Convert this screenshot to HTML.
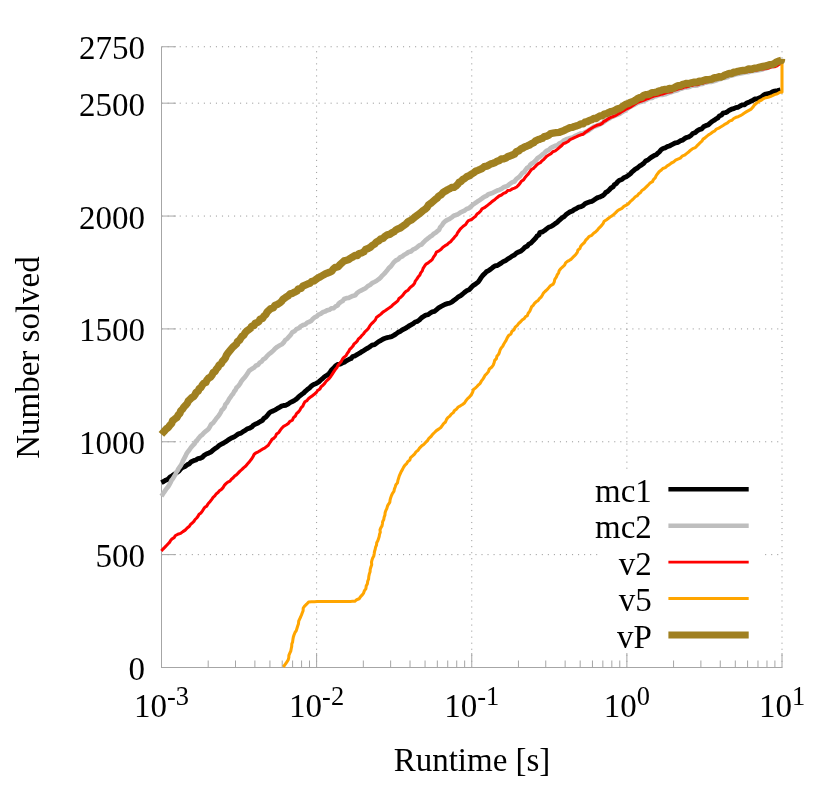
<!DOCTYPE html>
<html><head><meta charset="utf-8"><title>chart</title>
<style>
html,body{margin:0;padding:0;background:#fff;}
body{width:830px;height:792px;position:relative;overflow:hidden;font-family:"Liberation Serif",serif;color:#000;}
.txt{position:absolute;left:0;top:0;width:830px;height:792px;will-change:transform;}
.yl{position:absolute;left:0;width:145px;text-align:right;font-size:33px;line-height:37px;height:37px;white-space:nowrap;}
.xl{position:absolute;top:687.5px;width:100px;text-align:center;font-size:33px;line-height:37px;white-space:nowrap;}
.sup{font-size:26.4px;position:relative;top:-11.8px;line-height:0;}
.xt{position:absolute;left:372px;width:200px;top:742px;text-align:center;font-size:33px;line-height:37px;white-space:nowrap;}
.yt{position:absolute;left:28px;top:357px;width:0;height:0;font-size:33px;line-height:37px;white-space:nowrap;}
.yt span{position:absolute;left:-150px;width:300px;top:-18.5px;text-align:center;transform:rotate(-90deg);display:block;}
.lg{position:absolute;width:200px;left:451.8px;text-align:right;font-size:33px;line-height:37px;white-space:nowrap;}
</style></head><body>
<svg width="830" height="792" viewBox="0 0 830 792" style="position:absolute;left:0;top:0">
<rect width="830" height="792" fill="#fff"/>
<g stroke="#9a9a9a" stroke-width="1" stroke-dasharray="1.1 4.935" fill="none"><line x1="161.60" y1="667.50" x2="782.00" y2="667.50"/><line x1="161.60" y1="554.64" x2="782.00" y2="554.64"/><line x1="161.60" y1="441.77" x2="782.00" y2="441.77"/><line x1="161.60" y1="328.91" x2="782.00" y2="328.91"/><line x1="161.60" y1="216.05" x2="782.00" y2="216.05"/><line x1="161.60" y1="103.18" x2="782.00" y2="103.18"/><line x1="161.60" y1="46.75" x2="782.00" y2="46.75"/><line x1="161.50" y1="667.90" x2="161.50" y2="46.75"/><line x1="316.62" y1="667.90" x2="316.62" y2="46.75"/><line x1="471.75" y1="667.90" x2="471.75" y2="46.75"/><line x1="626.88" y1="667.90" x2="626.88" y2="46.75"/><line x1="782.00" y1="667.90" x2="782.00" y2="46.75"/></g>
<g stroke="#a6a6a6" stroke-width="1" fill="none"><path d="M161.5,46.75 V667.5 H782.0"/><path d="M161.5,667.50 h14.5"/><path d="M161.5,554.64 h14.5"/><path d="M161.5,441.77 h14.5"/><path d="M161.5,328.91 h14.5"/><path d="M161.5,216.05 h14.5"/><path d="M161.5,103.18 h14.5"/><path d="M161.5,46.75 h14.5"/><path d="M161.50,667.5 v-14.5"/><path d="M208.20,667.5 v-7"/><path d="M235.51,667.5 v-7"/><path d="M254.89,667.5 v-7"/><path d="M269.93,667.5 v-7"/><path d="M282.21,667.5 v-7"/><path d="M292.60,667.5 v-7"/><path d="M301.59,667.5 v-7"/><path d="M309.53,667.5 v-7"/><path d="M316.62,667.5 v-14.5"/><path d="M363.32,667.5 v-7"/><path d="M390.64,667.5 v-7"/><path d="M410.02,667.5 v-7"/><path d="M425.05,667.5 v-7"/><path d="M437.34,667.5 v-7"/><path d="M447.72,667.5 v-7"/><path d="M456.72,667.5 v-7"/><path d="M464.65,667.5 v-7"/><path d="M471.75,667.5 v-14.5"/><path d="M518.45,667.5 v-7"/><path d="M545.76,667.5 v-7"/><path d="M565.14,667.5 v-7"/><path d="M580.18,667.5 v-7"/><path d="M592.46,667.5 v-7"/><path d="M602.85,667.5 v-7"/><path d="M611.84,667.5 v-7"/><path d="M619.78,667.5 v-7"/><path d="M626.88,667.5 v-14.5"/><path d="M673.57,667.5 v-7"/><path d="M700.89,667.5 v-7"/><path d="M720.27,667.5 v-7"/><path d="M735.30,667.5 v-7"/><path d="M747.59,667.5 v-7"/><path d="M757.97,667.5 v-7"/><path d="M766.97,667.5 v-7"/><path d="M774.90,667.5 v-7"/><path d="M782.00,667.5 v-14.5"/></g>
<clipPath id="cp"><rect x="150" y="40" width="640" height="632"/></clipPath><g clip-path="url(#cp)" fill="none" stroke-linejoin="round"><path d="M161.4,482.7 L163.6,481.5 L165.7,480.2 L168.0,479.2 L169.9,477.2 L172.2,475.8 L174.3,474.2 L176.5,472.7 L178.8,471.2 L180.5,469.1 L182.6,467.4 L185.2,466.4 L187.2,464.8 L189.5,463.7 L191.3,461.7 L193.6,460.7 L195.9,460.0 L197.8,458.6 L200.2,458.3 L202.4,457.2 L204.2,455.3 L206.3,454.0 L208.7,453.1 L211.0,452.1 L212.9,450.2 L215.0,448.6 L217.2,447.2 L219.2,445.4 L221.4,444.2 L223.7,443.0 L225.8,441.7 L227.9,440.2 L230.0,438.9 L232.1,437.7 L234.4,436.7 L236.5,435.3 L238.5,433.8 L241.0,433.1 L243.0,431.6 L245.2,430.4 L247.2,428.8 L249.7,428.2 L251.8,426.9 L253.6,425.1 L255.8,423.9 L258.1,422.9 L260.3,421.5 L262.5,420.3 L264.0,418.3 L266.0,416.9 L267.6,415.1 L269.1,413.2 L271.0,411.7 L273.2,410.9 L275.3,409.8 L277.4,408.5 L279.5,407.4 L281.5,406.2 L283.7,405.5 L286.0,405.2 L288.1,404.1 L290.1,402.6 L292.4,401.5 L294.6,400.3 L296.7,398.9 L298.3,397.2 L300.1,395.7 L301.8,394.3 L303.7,393.0 L305.3,391.3 L307.3,389.6 L309.5,388.0 L311.4,386.1 L313.6,384.5 L316.3,383.4 L318.8,381.9 L320.8,380.0 L322.8,378.3 L324.8,376.5 L327.2,375.1 L329.1,373.5 L330.6,371.5 L332.0,369.5 L333.9,367.8 L335.6,365.8 L337.9,364.4 L340.2,364.1 L342.2,363.0 L344.3,362.2 L346.4,360.7 L348.7,359.6 L351.0,358.6 L352.7,356.5 L355.2,355.8 L357.4,354.4 L359.6,353.2 L361.6,351.7 L363.8,350.6 L365.8,349.2 L368.0,348.0 L370.1,346.7 L372.0,345.2 L374.6,344.6 L376.6,343.1 L378.6,341.6 L380.8,340.5 L383.0,339.1 L385.1,338.3 L387.2,337.6 L389.4,337.2 L391.6,336.6 L393.8,335.4 L395.8,334.1 L397.8,332.6 L400.0,331.6 L402.1,330.0 L404.5,328.8 L406.8,327.5 L408.9,326.0 L411.0,324.8 L413.2,323.6 L415.1,322.0 L417.5,321.3 L419.6,319.8 L421.4,317.9 L423.5,316.5 L425.7,315.1 L428.2,314.6 L430.1,313.1 L432.2,311.9 L434.5,311.3 L436.6,309.6 L438.6,307.9 L440.8,306.6 L443.1,305.4 L445.1,304.3 L447.3,303.6 L449.6,303.1 L451.7,302.1 L453.7,300.5 L455.9,299.0 L457.9,297.2 L460.2,295.9 L462.4,294.3 L464.4,292.5 L466.5,290.8 L469.1,289.8 L471.2,287.5 L473.4,285.3 L475.8,283.8 L478.1,282.1 L479.7,279.8 L481.1,277.7 L482.6,275.6 L484.5,273.8 L486.3,271.8 L488.7,270.6 L490.9,269.0 L492.9,267.3 L494.9,265.9 L497.4,265.5 L499.5,264.2 L501.5,262.9 L503.5,261.4 L505.9,260.4 L507.9,258.8 L510.1,257.6 L512.1,256.1 L514.4,255.0 L516.3,253.2 L518.6,252.0 L521.1,250.9 L523.2,249.2 L525.0,247.2 L527.4,246.0 L528.9,244.1 L530.9,243.1 L532.5,241.4 L534.1,239.7 L535.7,238.1 L536.9,236.2 L539.0,234.9 L539.8,232.6 L542.4,231.8 L544.6,230.5 L546.6,228.9 L548.6,227.3 L551.0,226.5 L553.2,225.2 L555.2,223.6 L557.3,222.2 L558.9,220.6 L560.6,219.1 L562.3,217.6 L564.3,216.5 L565.8,214.8 L567.9,213.3 L570.0,211.9 L572.4,211.0 L574.4,209.4 L576.6,208.4 L578.7,207.2 L581.1,206.6 L583.2,205.5 L585.0,203.8 L587.2,202.8 L589.4,201.9 L591.8,201.3 L593.9,200.1 L595.9,198.7 L598.0,197.5 L600.3,196.8 L602.5,195.8 L604.3,194.4 L605.7,192.5 L607.8,191.3 L609.4,189.7 L611.0,188.0 L613.0,186.9 L614.2,184.9 L616.2,183.7 L617.6,181.8 L619.3,180.3 L621.9,179.5 L623.8,177.7 L626.3,176.7 L628.4,175.3 L630.3,173.9 L631.8,172.1 L633.6,170.6 L635.3,169.1 L637.4,168.0 L639.4,166.2 L641.7,164.8 L643.8,163.2 L645.6,161.0 L647.9,160.0 L649.9,158.3 L652.0,156.9 L654.1,155.6 L656.3,154.7 L657.9,153.1 L659.7,151.6 L661.1,149.8 L663.0,148.5 L665.2,147.8 L667.2,146.7 L669.4,146.0 L671.4,144.9 L673.5,143.8 L675.7,142.8 L678.1,142.3 L680.1,140.9 L682.4,140.2 L684.4,138.7 L686.5,137.5 L688.8,136.8 L691.0,135.5 L692.7,133.5 L695.2,132.7 L697.1,130.9 L699.2,129.6 L701.7,128.8 L703.5,126.8 L705.7,125.7 L708.2,124.9 L710.1,123.1 L712.1,121.5 L714.3,120.2 L716.0,118.9 L718.0,117.8 L719.4,115.9 L721.6,115.0 L723.0,113.2 L725.4,112.7 L727.5,111.7 L729.4,110.2 L731.5,109.2 L733.8,108.6 L735.8,107.6 L738.1,107.3 L740.1,106.0 L742.2,104.9 L744.7,104.7 L746.6,103.1 L748.8,102.3 L750.9,101.2 L753.0,100.2 L755.1,99.0 L757.5,98.8 L759.7,97.8 L761.8,96.7 L763.7,95.0 L765.8,94.1 L768.1,93.6 L770.4,93.1 L772.4,91.9 L774.6,91.2 L777.6,90.6 L780.6,89.8" stroke="#000000" stroke-width="4.9"/><path d="M161.4,496.2 L162.7,494.3 L164.0,492.3 L165.3,490.4 L166.6,488.5 L168.1,486.7 L169.3,484.7 L170.5,482.6 L171.4,480.5 L172.9,478.6 L174.1,476.6 L175.3,474.6 L176.2,472.4 L177.5,470.6 L178.5,468.6 L179.9,466.8 L181.1,464.9 L182.2,462.9 L182.9,460.8 L184.1,458.6 L185.3,456.4 L186.4,454.1 L187.7,452.0 L189.3,450.0 L190.8,447.8 L192.5,445.7 L194.5,443.8 L195.8,441.5 L197.4,439.9 L198.8,438.0 L200.3,436.2 L202.1,434.8 L204.1,432.6 L206.5,430.7 L208.5,428.9 L209.9,426.7 L211.1,424.4 L213.2,422.8 L214.8,420.7 L216.3,418.5 L218.1,416.5 L219.6,414.4 L220.8,412.4 L221.7,410.3 L223.4,408.7 L224.7,406.8 L225.3,404.5 L226.9,402.8 L228.1,400.9 L229.2,398.9 L230.5,397.1 L231.7,395.3 L233.2,393.6 L234.1,391.6 L235.6,389.9 L236.5,387.8 L238.5,385.9 L240.1,383.7 L241.4,381.2 L243.1,379.1 L244.9,377.2 L246.4,375.1 L247.8,372.9 L249.2,370.7 L251.5,369.1 L253.8,367.8 L255.7,365.8 L258.2,364.8 L259.6,362.7 L261.7,361.5 L263.1,359.5 L265.2,358.2 L266.7,356.4 L268.3,354.8 L270.1,353.3 L271.9,351.9 L273.5,350.3 L275.1,348.6 L277.2,346.9 L279.5,345.5 L281.9,344.2 L283.9,342.3 L285.2,340.1 L287.4,338.6 L289.1,336.6 L290.9,334.7 L292.2,332.4 L294.6,331.2 L296.4,329.2 L298.9,328.1 L300.8,326.3 L303.0,325.1 L305.4,324.4 L307.2,322.6 L309.6,321.7 L311.5,320.6 L312.9,318.8 L314.7,317.4 L316.8,316.4 L318.3,314.7 L320.6,313.9 L322.6,312.3 L324.9,311.6 L327.0,310.4 L329.4,309.8 L331.3,308.4 L333.8,308.1 L335.6,306.4 L337.6,305.4 L338.9,303.4 L340.8,302.0 L342.8,300.9 L344.1,299.0 L346.4,298.2 L348.7,297.9 L350.7,296.9 L352.8,295.9 L355.3,295.2 L357.0,293.1 L359.1,291.5 L361.4,290.3 L363.7,289.2 L365.9,287.9 L367.8,286.1 L370.0,285.0 L372.0,283.2 L374.4,282.0 L376.7,280.7 L378.8,279.2 L380.7,277.5 L382.3,275.6 L384.1,273.9 L385.7,272.1 L387.3,270.2 L388.8,268.1 L390.8,266.4 L392.3,264.3 L393.9,262.2 L395.8,260.5 L398.2,259.4 L400.0,257.4 L402.3,256.3 L404.4,254.7 L406.6,253.5 L408.6,252.0 L411.1,251.4 L412.9,249.6 L415.2,248.6 L417.3,247.1 L419.2,245.4 L421.6,244.5 L423.1,242.7 L424.8,241.1 L426.5,239.6 L428.3,238.2 L430.0,236.7 L432.0,235.5 L433.6,233.9 L435.6,232.8 L437.3,231.2 L439.1,229.8 L440.2,227.2 L442.0,225.2 L443.4,223.0 L445.3,221.1 L447.4,219.9 L449.7,218.8 L451.8,217.4 L453.7,215.8 L455.9,215.0 L458.1,214.1 L460.1,212.7 L462.2,211.7 L464.5,210.6 L466.5,209.0 L468.9,208.2 L470.9,206.4 L472.6,204.9 L474.5,203.6 L476.4,202.3 L478.3,200.9 L480.3,199.7 L482.2,198.3 L484.2,196.9 L486.5,195.8 L488.5,194.2 L490.9,193.4 L493.1,192.7 L495.1,191.7 L497.2,190.6 L499.3,189.9 L501.5,188.8 L503.5,187.3 L505.7,186.6 L507.9,185.6 L509.9,183.9 L512.0,182.4 L514.5,181.5 L515.9,179.6 L517.6,178.1 L519.5,176.7 L520.9,174.9 L522.3,173.1 L524.3,171.9 L525.6,169.9 L526.9,168.1 L529.0,166.9 L530.2,164.9 L532.0,163.4 L533.9,162.2 L535.9,160.3 L537.7,158.0 L540.1,156.6 L542.2,154.7 L544.4,153.0 L546.4,151.0 L548.8,149.9 L550.6,148.0 L552.9,146.8 L555.1,145.8 L557.5,145.2 L559.3,143.4 L561.7,142.5 L563.6,140.7 L565.9,139.5 L568.0,138.7 L570.2,138.1 L572.4,137.6 L574.4,136.4 L576.5,135.3 L578.6,134.4 L580.8,133.5 L583.2,133.3 L585.3,132.2 L587.8,131.0 L590.1,129.3 L593.6,126.8 L597.1,125.7 L599.8,124.4 L602.5,123.0 L604.0,121.8 L605.9,120.4 L608.0,119.2 L610.1,118.2 L610.9,117.3 L613.5,116.4 L616.0,115.2 L619.7,113.8 L622.1,112.1 L624.3,110.9 L626.4,109.6 L628.3,107.9 L631.1,106.3 L634.0,104.9 L637.1,103.1 L639.3,102.3 L641.5,101.7 L643.8,101.0 L645.8,99.9 L646.1,100.0 L648.0,98.7 L650.1,98.1 L652.4,97.9 L654.2,96.5 L656.5,96.1 L658.5,95.2 L660.7,94.7 L663.0,94.8 L665.4,94.3 L667.7,93.4 L669.9,92.4 L671.5,92.1 L673.6,91.3 L675.9,90.8 L678.0,90.0 L680.1,88.9 L682.3,88.4 L684.3,87.5 L686.5,87.3 L688.8,87.1 L690.0,86.7 L692.4,85.7 L694.9,85.7 L697.3,85.4 L699.8,84.2 L702.5,83.9 L705.0,82.7 L705.9,82.7 L708.7,81.8 L711.7,81.8 L714.5,81.0 L716.6,80.3 L718.7,79.3 L720.9,79.0 L722.9,78.0 L725.2,77.8 L727.4,77.3 L729.4,76.0 L731.6,75.5 L733.8,74.9 L735.9,74.2 L738.1,73.9 L740.3,73.5 L743.1,72.9 L745.9,72.2 L748.9,72.1 L751.6,71.1 L754.5,70.9 L757.4,70.4 L760.0,69.9 L762.5,69.4 L764.9,68.3 L766.0,68.3 L768.1,67.3 L770.3,66.7 L772.6,66.2 L774.6,65.1 L774.8,64.3 L777.1,63.8 L779.4,63.0 L781.6,62.2 L781.5,61.9" stroke="#bebebe" stroke-width="4.7"/><path d="M161.4,550.9 L163.0,549.1 L164.7,547.4 L166.3,545.7 L167.9,544.0 L169.5,542.4 L170.6,540.5 L172.1,538.8 L174.1,537.7 L175.2,535.8 L177.8,534.3 L180.6,533.4 L182.9,531.6 L185.2,530.1 L187.2,528.0 L189.4,526.3 L190.5,524.4 L192.3,523.0 L193.9,521.4 L195.1,519.5 L196.7,518.0 L198.0,516.3 L199.1,514.2 L201.0,512.9 L202.3,511.1 L203.5,509.2 L204.8,507.3 L206.8,506.1 L208.1,503.7 L209.9,501.7 L211.6,499.6 L213.1,497.4 L214.8,495.9 L216.1,494.0 L218.0,492.6 L219.4,490.8 L221.4,489.4 L223.1,487.6 L224.3,485.4 L226.0,483.7 L227.8,482.1 L230.0,481.1 L231.4,479.2 L233.2,477.8 L234.7,476.1 L236.6,474.7 L238.3,472.9 L240.0,471.1 L242.0,469.4 L243.8,467.6 L245.8,466.0 L247.4,464.1 L249.0,462.3 L250.4,460.4 L251.9,458.6 L253.1,456.5 L254.2,454.3 L256.1,452.8 L258.2,451.8 L260.3,450.6 L262.4,449.2 L264.6,448.2 L266.5,446.6 L268.3,445.2 L269.5,443.3 L270.8,441.3 L272.0,439.4 L274.0,438.1 L275.5,436.4 L276.6,433.9 L278.8,432.4 L280.3,430.2 L281.8,428.2 L283.6,426.3 L286.1,425.0 L288.3,423.5 L290.0,421.3 L292.4,420.1 L293.5,417.7 L295.4,416.0 L296.5,413.7 L298.4,412.0 L299.9,410.1 L301.0,407.9 L302.8,406.2 L303.7,403.9 L304.9,401.8 L307.0,400.6 L308.4,398.7 L310.2,397.3 L312.1,395.9 L313.9,394.6 L316.3,392.5 L317.7,390.5 L319.9,389.0 L321.1,386.7 L323.2,385.0 L324.7,383.4 L326.0,381.5 L327.7,379.9 L329.3,378.4 L330.9,376.3 L332.3,374.1 L333.7,371.9 L335.1,369.8 L336.8,367.8 L337.9,365.5 L339.5,363.4 L341.3,361.4 L342.5,359.1 L344.2,357.1 L346.1,355.6 L347.2,353.4 L348.7,351.6 L349.7,349.4 L351.4,347.8 L353.0,346.0 L354.0,344.0 L355.9,342.6 L357.3,341.0 L358.4,338.9 L360.2,337.6 L361.5,335.8 L363.4,334.0 L364.9,331.9 L366.8,330.2 L368.5,328.3 L369.8,325.9 L371.4,323.8 L373.4,322.0 L375.3,320.0 L376.4,317.5 L378.7,315.8 L380.9,314.1 L382.9,312.1 L385.1,310.7 L387.2,309.2 L389.4,307.8 L391.6,306.2 L393.6,304.2 L395.8,302.5 L397.8,300.9 L399.0,298.5 L401.1,297.0 L402.9,295.2 L404.3,293.1 L406.0,291.4 L408.1,290.2 L409.4,288.3 L411.1,286.7 L413.0,285.3 L414.5,283.4 L415.3,281.1 L416.8,279.1 L418.1,277.1 L419.7,275.3 L420.7,272.9 L422.3,270.9 L423.1,268.4 L424.5,266.2 L426.0,264.1 L428.2,262.9 L430.2,261.2 L432.2,259.6 L433.5,257.1 L435.2,254.8 L436.4,252.1 L439.0,250.9 L441.1,249.3 L442.9,247.2 L445.1,245.7 L447.1,244.6 L448.7,243.0 L450.6,241.7 L452.0,240.0 L453.6,238.4 L454.9,236.6 L456.6,235.0 L457.5,232.9 L458.9,231.0 L460.2,229.2 L461.9,227.5 L463.6,225.9 L465.7,224.5 L466.9,222.4 L468.5,220.6 L471.5,219.5 L473.8,217.6 L475.6,216.2 L477.0,214.1 L479.0,212.7 L480.7,211.0 L482.0,208.9 L484.4,207.7 L486.6,206.1 L488.7,204.4 L490.8,202.7 L492.8,201.0 L495.0,199.4 L497.0,197.7 L499.1,196.0 L501.5,195.0 L503.5,193.4 L505.9,192.5 L507.7,190.6 L510.2,190.2 L512.3,188.9 L514.5,188.1 L516.7,187.0 L518.5,185.2 L520.0,183.3 L521.4,181.2 L523.5,179.9 L524.9,177.8 L526.6,175.8 L528.4,173.9 L529.9,171.7 L531.5,169.5 L533.5,168.4 L535.0,166.8 L536.6,165.2 L538.3,163.7 L540.3,162.7 L541.8,160.9 L543.7,159.6 L545.2,157.8 L546.8,156.2 L548.7,155.0 L551.0,153.7 L552.8,151.8 L555.3,150.9 L557.5,149.1 L559.6,147.3 L561.8,145.5 L563.5,143.6 L565.9,142.7 L568.2,141.5 L570.0,139.6 L572.2,138.7 L574.4,137.6 L576.6,136.7 L578.7,135.7 L580.9,134.8 L583.2,134.2 L585.0,132.6 L587.4,130.9 L589.8,129.2 L593.6,127.0 L596.8,125.3 L599.9,124.6 L602.5,123.1 L603.8,121.5 L606.0,120.5 L607.9,119.1 L609.9,117.9 L610.9,117.4 L613.5,116.5 L616.0,115.3 L619.5,113.3 L621.8,111.6 L624.0,110.4 L626.1,109.0 L628.4,108.1 L631.3,106.6 L633.9,104.7 L637.0,102.7 L639.2,101.8 L641.4,101.0 L643.6,100.2 L645.9,99.4 L646.0,98.9 L648.2,98.5 L650.2,97.6 L652.2,96.7 L654.3,95.9 L656.5,95.5 L658.7,95.0 L660.8,94.2 L663.0,93.9 L665.3,93.1 L667.6,92.3 L670.0,92.0 L671.6,91.7 L673.5,90.3 L675.8,89.8 L677.9,89.0 L680.2,88.5 L682.3,88.1 L684.4,87.0 L686.6,86.9 L688.8,86.2 L690.0,85.6 L692.4,85.4 L694.8,84.6 L697.3,84.8 L699.9,83.8 L702.5,83.2 L705.1,82.3 L705.9,81.9 L708.8,81.4 L711.6,80.7 L714.4,79.8 L716.6,79.6 L718.6,78.5 L720.8,78.1 L723.1,78.1 L725.0,76.7 L727.2,76.0 L729.4,75.3 L731.7,75.2 L733.7,74.0 L735.8,73.3 L738.1,73.4 L740.1,72.2 L743.1,72.4 L746.0,71.8 L748.8,71.5 L751.7,71.1 L754.5,70.3 L757.4,70.0 L759.9,68.7 L763.0,69.0 L766.0,68.4 L769.0,67.9 L771.9,66.7 L774.6,66.7 L777.0,65.9 L779.0,64.3 L781.4,63.6 L781.5,63.8" stroke="#ff0000" stroke-width="3.05"/><path d="M283.3,667.0 L285.0,664.6 L286.6,662.3 L288.2,659.9 L288.8,657.7 L288.9,655.3 L289.8,653.1 L290.8,651.0 L291.2,648.7 L291.7,646.4 L291.8,644.1 L292.6,641.9 L292.9,639.6 L293.3,637.3 L294.0,635.0 L294.9,632.7 L296.3,630.6 L297.0,628.3 L297.7,626.0 L298.5,623.7 L298.7,621.2 L299.6,619.1 L300.6,617.0 L301.5,614.9 L302.3,612.8 L303.1,610.7 L303.2,608.3 L304.4,606.3 L306.6,604.2 L308.6,602.0 L311.5,601.8 L314.4,601.7 L317.2,601.5 L319.7,601.5 L322.1,601.5 L324.6,601.5 L327.0,601.5 L329.5,601.5 L331.9,601.5 L334.4,601.5 L336.7,601.5 L338.9,601.5 L341.2,601.5 L343.5,601.4 L345.7,601.4 L348.0,601.4 L350.3,601.4 L352.5,601.3 L354.8,601.3 L356.7,599.7 L359.1,598.8 L360.4,596.8 L362.0,595.2 L363.4,593.4 L364.3,590.9 L365.9,588.7 L366.2,586.0 L367.4,583.7 L367.7,581.3 L368.6,579.0 L368.8,576.5 L369.3,574.1 L370.1,571.8 L370.2,569.4 L370.9,567.0 L371.7,564.7 L371.5,562.2 L372.0,560.0 L372.7,557.9 L373.8,555.9 L374.2,553.7 L374.5,551.5 L375.2,549.3 L375.6,547.1 L376.5,545.1 L376.7,542.8 L377.8,540.8 L378.5,538.7 L379.2,536.6 L379.5,534.4 L380.3,532.3 L380.0,529.9 L380.8,527.9 L382.0,525.9 L382.4,523.7 L382.7,521.4 L383.8,519.4 L384.1,517.2 L384.9,515.1 L385.1,512.8 L385.8,510.6 L386.8,508.6 L387.4,506.3 L388.4,504.3 L389.8,502.3 L390.1,499.9 L390.7,497.7 L391.5,495.5 L392.5,493.4 L393.9,491.4 L394.4,489.1 L395.2,486.9 L395.9,484.7 L397.5,482.8 L397.9,480.4 L398.6,478.2 L399.3,475.9 L400.2,473.8 L401.2,471.6 L402.4,469.6 L403.5,467.4 L404.8,465.4 L406.6,463.7 L407.8,461.6 L409.8,460.0 L410.6,457.6 L412.6,455.9 L414.5,454.1 L416.0,451.9 L418.1,450.3 L419.5,448.1 L421.5,446.1 L423.7,444.5 L425.6,442.4 L427.5,440.6 L428.9,438.3 L431.0,436.5 L432.6,434.3 L434.5,432.5 L436.4,430.6 L438.7,429.1 L440.8,427.5 L442.2,425.6 L443.6,423.6 L445.5,422.0 L446.4,419.7 L447.8,417.6 L449.8,416.1 L451.3,414.1 L453.3,412.6 L454.6,410.4 L456.7,408.9 L458.2,407.0 L460.4,405.8 L462.5,404.5 L464.5,403.0 L465.9,400.7 L467.6,398.6 L469.6,396.8 L471.3,394.7 L472.6,392.2 L473.5,389.5 L475.3,388.1 L477.0,386.5 L478.5,384.8 L480.2,383.3 L481.3,381.2 L482.7,379.3 L484.0,377.4 L485.0,375.3 L486.8,373.7 L488.4,371.6 L489.4,368.9 L491.6,367.3 L493.2,365.1 L494.1,362.8 L494.7,360.4 L496.4,358.6 L496.9,356.2 L498.6,354.3 L499.5,352.1 L500.1,349.9 L501.2,347.9 L502.7,346.2 L503.7,344.2 L504.9,342.3 L506.1,340.4 L507.2,337.9 L508.6,335.6 L510.9,334.0 L511.9,331.4 L514.1,329.7 L515.2,327.1 L517.3,325.3 L518.9,323.2 L520.6,321.8 L522.1,320.1 L524.0,318.8 L525.4,316.8 L527.3,315.6 L528.2,313.3 L529.7,311.4 L530.7,309.2 L531.5,306.9 L533.2,305.3 L534.5,303.4 L536.1,301.8 L538.0,300.6 L539.4,298.7 L541.1,297.1 L542.3,295.2 L543.4,293.1 L545.0,291.5 L546.8,289.9 L548.7,287.8 L550.6,285.6 L553.2,284.2 L554.3,281.8 L554.8,279.3 L556.3,277.2 L557.2,274.9 L558.6,272.8 L559.3,270.4 L560.9,268.5 L562.7,266.8 L564.6,265.2 L565.6,262.9 L567.4,261.4 L569.4,260.3 L571.3,259.1 L572.8,257.4 L574.4,255.9 L576.0,254.2 L577.3,252.3 L578.0,250.0 L579.9,248.6 L580.7,246.3 L582.4,244.3 L584.4,242.5 L585.7,240.2 L587.6,238.3 L589.3,236.3 L591.8,235.3 L593.6,233.3 L595.8,231.7 L597.4,230.2 L598.7,228.4 L600.3,226.8 L601.9,225.2 L603.2,223.4 L604.2,221.2 L606.6,219.7 L608.8,218.1 L611.0,216.4 L613.2,214.9 L615.2,213.1 L617.2,211.1 L619.4,209.6 L621.9,208.4 L623.9,206.4 L626.3,205.1 L628.6,203.6 L630.2,201.7 L632.0,200.2 L633.7,198.5 L635.3,196.8 L637.4,195.6 L638.8,193.7 L640.6,192.4 L641.9,190.5 L643.8,189.3 L645.5,187.7 L647.1,186.1 L648.7,184.5 L650.3,182.8 L652.4,181.7 L653.5,179.5 L655.2,177.8 L656.2,175.6 L657.6,173.7 L659.1,171.8 L661.0,170.3 L662.8,168.5 L665.3,167.6 L667.2,165.8 L669.4,164.6 L671.4,163.0 L673.7,161.9 L675.6,160.2 L677.9,159.1 L680.3,158.1 L682.1,156.2 L684.5,155.2 L686.5,153.6 L688.6,152.0 L690.6,150.2 L692.7,148.6 L695.4,147.6 L696.9,145.9 L698.5,144.3 L700.2,142.7 L701.9,141.2 L703.1,139.1 L705.0,137.9 L706.7,136.4 L708.5,134.9 L710.4,133.7 L712.4,132.2 L714.7,131.0 L716.4,129.1 L718.8,128.1 L721.0,126.8 L723.1,125.5 L725.2,124.1 L727.5,122.9 L729.4,121.1 L731.8,120.3 L733.7,118.5 L736.0,117.3 L738.2,116.7 L740.3,115.7 L742.3,114.5 L744.4,113.0 L746.6,111.6 L748.9,110.3 L751.2,109.1 L752.8,107.3 L754.1,105.4 L755.7,103.8 L757.6,102.4 L759.4,101.0 L761.6,100.0 L763.6,98.6 L765.8,97.7 L768.1,97.2 L770.3,96.5 L772.4,95.6 L774.5,94.6 L777.4,93.8 L779.9,92.2 L782.0,92.3 L782.0,62.0" stroke="#ffa500" stroke-width="3.05"/><path d="M161.4,434.4 L163.0,432.6 L164.7,430.7 L166.3,428.9 L168.3,427.5 L169.8,425.3 L171.7,423.4 L172.6,420.7 L174.7,419.1 L176.9,417.5 L178.1,415.2 L179.9,413.4 L180.7,410.9 L182.6,409.1 L183.9,407.0 L185.7,405.2 L187.3,403.2 L188.3,401.0 L190.0,399.4 L191.6,397.7 L193.7,396.5 L195.1,394.6 L196.1,392.4 L198.2,391.1 L199.1,388.8 L201.1,387.4 L202.2,385.3 L203.6,383.4 L205.9,382.4 L206.9,380.1 L208.4,378.3 L210.6,377.0 L212.1,375.0 L213.1,372.7 L215.2,371.3 L216.4,369.1 L218.0,367.3 L219.1,365.0 L221.3,363.6 L222.4,361.4 L224.1,359.7 L225.5,357.6 L226.4,355.2 L227.8,353.3 L229.4,351.2 L231.1,349.3 L232.7,347.3 L234.7,345.5 L236.7,343.8 L237.5,341.6 L239.6,340.2 L240.7,338.2 L242.1,336.3 L244.0,334.9 L245.1,332.8 L246.7,331.1 L248.6,329.7 L250.5,328.3 L251.7,326.2 L254.1,325.4 L255.1,323.2 L257.4,322.5 L259.1,321.2 L260.2,319.0 L262.5,318.4 L263.9,316.2 L265.8,314.5 L267.0,312.2 L268.8,310.4 L270.6,308.7 L273.4,307.8 L275.0,305.4 L277.5,304.3 L279.8,302.9 L281.5,301.5 L282.8,299.5 L284.5,298.2 L286.4,296.9 L288.3,295.8 L290.0,293.9 L292.5,293.3 L294.7,292.1 L296.9,291.0 L298.5,288.8 L301.2,288.4 L302.8,286.2 L305.2,285.1 L307.5,284.1 L309.8,283.3 L311.6,281.5 L314.1,280.9 L316.0,279.3 L318.5,277.7 L320.6,276.6 L322.7,275.4 L324.8,274.2 L327.0,273.2 L329.4,272.3 L331.8,271.2 L333.4,268.9 L335.5,267.3 L338.3,266.6 L340.1,264.5 L342.1,262.7 L344.2,260.9 L346.5,260.2 L348.8,259.4 L350.8,258.0 L352.9,256.9 L354.9,255.5 L357.4,255.5 L359.1,253.5 L361.5,253.0 L363.9,251.8 L365.5,249.5 L368.1,248.5 L370.4,247.2 L372.3,245.4 L374.6,244.1 L376.3,242.0 L378.6,240.9 L380.6,239.1 L383.2,238.3 L385.0,236.3 L387.2,234.9 L389.7,234.3 L391.8,232.9 L394.0,231.8 L395.8,230.0 L398.0,228.9 L400.3,228.0 L402.3,226.5 L404.3,225.2 L406.1,223.8 L407.6,222.1 L409.5,220.8 L411.7,219.9 L413.4,218.3 L415.3,216.7 L417.3,215.2 L419.4,213.7 L421.4,212.1 L423.1,210.5 L425.3,209.1 L427.1,207.3 L428.4,205.1 L430.5,203.6 L432.1,202.2 L433.8,200.7 L435.5,199.2 L437.3,197.9 L438.7,196.1 L441.1,194.7 L442.9,192.7 L445.2,191.2 L447.6,189.8 L449.6,188.8 L451.6,187.5 L454.0,187.3 L456.0,186.0 L457.7,184.4 L459.0,182.4 L461.1,181.4 L462.6,179.6 L464.7,178.5 L466.7,176.8 L469.2,175.8 L471.3,174.2 L473.6,172.9 L475.5,171.3 L477.8,170.4 L480.1,169.4 L482.4,168.3 L484.2,166.7 L486.7,166.2 L488.8,165.1 L490.9,163.8 L493.1,163.3 L495.2,162.5 L497.2,161.2 L499.4,160.4 L501.3,159.0 L503.8,158.8 L506.0,158.0 L507.9,156.6 L510.2,155.9 L512.3,155.0 L514.5,154.1 L516.3,151.8 L518.9,150.8 L520.9,148.9 L523.0,148.0 L525.1,146.7 L527.3,145.9 L529.5,145.0 L531.6,143.7 L533.8,142.7 L535.6,140.8 L537.8,139.8 L540.1,139.1 L542.4,138.3 L544.3,136.7 L546.7,136.2 L548.8,135.2 L550.6,133.6 L553.0,133.2 L556.2,132.7 L559.4,132.3 L561.4,131.5 L563.6,130.7 L565.7,129.6 L567.9,128.7 L570.0,127.7 L572.3,127.4 L574.4,126.5 L576.7,125.9 L578.8,125.1 L580.8,123.9 L583.2,123.9 L585.0,122.1 L587.3,121.6 L589.4,120.5 L591.6,119.8 L593.6,118.5 L596.1,118.5 L598.0,117.1 L600.0,115.9 L602.4,115.7 L604.3,114.1 L606.7,113.6 L608.7,112.4 L611.0,111.6 L613.3,111.2 L615.4,110.2 L617.4,108.9 L619.7,108.5 L621.8,107.1 L623.9,105.6 L625.9,104.2 L628.4,103.4 L630.6,102.2 L633.0,101.5 L635.2,100.4 L637.2,98.8 L639.3,97.7 L641.6,97.4 L643.4,95.5 L645.6,94.8 L647.9,94.6 L650.1,93.9 L652.1,92.6 L654.4,92.5 L656.6,92.2 L658.6,91.1 L660.8,90.6 L662.8,89.8 L665.0,89.4 L667.3,89.7 L669.3,88.5 L671.6,88.7 L673.8,87.9 L675.8,86.8 L677.9,85.6 L680.3,85.7 L682.2,84.6 L684.4,84.0 L686.5,83.4 L688.8,83.7 L691.5,82.8 L694.4,82.2 L697.3,82.1 L699.3,81.2 L701.6,81.2 L703.7,80.4 L705.8,79.6 L708.8,79.7 L711.7,79.2 L714.3,77.7 L716.6,77.7 L718.7,76.8 L721.0,77.0 L723.1,76.3 L725.1,74.9 L727.2,74.2 L729.3,73.4 L731.8,73.6 L733.7,72.2 L735.9,72.0 L738.0,71.3 L740.2,70.9 L743.1,70.4 L746.0,70.1 L748.7,68.9 L751.7,69.2 L754.5,68.1 L757.4,67.9 L760.2,67.1 L763.0,66.4 L766.0,66.0 L768.1,65.3 L770.2,64.6 L772.5,64.4 L774.6,63.5 L776.6,61.9 L779.0,61.1 L781.4,60.4 L781.5,58.8" stroke="#a08020" stroke-width="7.4"/></g>
<rect x="600" y="471" width="164.5" height="182" fill="#fff"/><path d="M668.4,489.30 H748.7" stroke="#000000" stroke-width="4.6" fill="none"/><path d="M668.4,525.72 H748.7" stroke="#bebebe" stroke-width="4.4" fill="none"/><path d="M668.4,562.14 H748.7" stroke="#ff0000" stroke-width="2.9" fill="none"/><path d="M668.4,598.56 H748.7" stroke="#ffa500" stroke-width="2.9" fill="none"/><path d="M668.4,634.98 H748.7" stroke="#a08020" stroke-width="6.8" fill="none"/>
</svg>
<div class="txt">
<div class="yl" style="top:651.0px">0</div><div class="yl" style="top:538.1px">500</div><div class="yl" style="top:425.3px">1000</div><div class="yl" style="top:312.4px">1500</div><div class="yl" style="top:199.5px">2000</div><div class="yl" style="top:86.7px">2500</div><div class="yl" style="top:30.2px">2750</div><div class="xl" style="left:111.5px">10<span class="sup">-3</span></div><div class="xl" style="left:266.6px">10<span class="sup">-2</span></div><div class="xl" style="left:421.8px">10<span class="sup">-1</span></div><div class="xl" style="left:576.9px">10<span class="sup">0</span></div><div class="xl" style="left:732.0px">10<span class="sup">1</span></div>
<div class="xt">Runtime [s]</div>
<div class="yt"><span>Number solved</span></div>
<div class="lg" style="top:472.8px">mc1</div><div class="lg" style="top:509.2px">mc2</div><div class="lg" style="top:545.6px">v2</div><div class="lg" style="top:582.1px">v5</div><div class="lg" style="top:618.5px">vP</div>
</div>
</body></html>
